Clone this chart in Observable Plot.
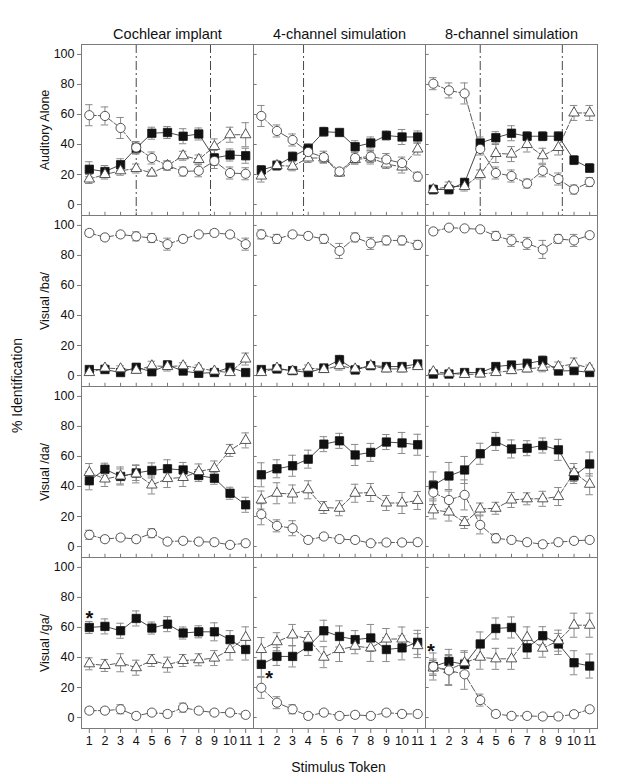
<!DOCTYPE html>
<html><head><meta charset="utf-8">
<script src="https://cdn.jsdelivr.net/npm/d3@7"></script>
<script src="https://cdn.jsdelivr.net/npm/@observablehq/plot@0.6"></script>
<style>body{margin:0;background:#fff}</style>
</head><body><div id="chart"></div>
<script>
// ---- categories / ticks ----
const tokens = [1,2,3,4,5,6,7,8,9,10,11];
const yTicks = [0,20,40,60,80,100];
const columns = ["Cochlear implant", "4-channel simulation", "8-channel simulation"];
const rows = ["Auditory Alone", "Visual /ba/", "Visual /da/", "Visual /ga/"];

// ---- Auditory Alone ----
const aaCI_ba = [59.5,59,51,38,31,26,22,22.5,29,21,20.5], aaCI_baErr = [7,6,7,4,4,3,3,4,5,4,4];
const aaCI_da = [23.5,22,26.5,37.6,47.5,48,45.5,47,31,33,32.5], aaCI_daErr = [5,4,4,4,4,4,5,4,5,4,5];
const aaCI_ga = [17,20,22.5,24,21,26,32.5,30,38.7,46.5,46.5], aaCI_gaErr = [3,3,3,3,2,3,3,3,5,5,8];
const aa4_ba = [59,49,43,35,31.5,22,31,32,30,27.6,18.6], aa4_baErr = [7,4,4,4,4,2,4,4,4,4,3];
const aa4_da = [23,26,32,37.4,48.5,48,38.5,41,46,45,45], aa4_daErr = [3,3,3,3,3,2,4,4,3,5,4];
const aa4_ga = [19,26,25.5,31,31,21,30,31,27,25,37], aa4_gaErr = [4,3,3,3,3,2,3,4,3,4,4];
const aa8_ba = [80.5,76,74,37,21,19,14,22.5,17,10,15], aa8_baErr = [4,5,7,4,4,4,3,4,4,3,3];
const aa8_da = [10,10,14.6,41,44.5,47.5,45.5,45.5,45.5,29.6,24.3], aa8_daErr = [3,3,3,4,4,5,3,3,3,3,3];
const aa8_ga = [10,12,12,20,34,33.6,40,32.5,38,61,61], aa8_gaErr = [2,3,3,3,6,5,5,5,5,5,5];

// ---- Visual /ba/ ----
const vbCI_ba = [95,92,94,92.7,91.6,87.5,91,94,95,94,87.5], vbCI_baErr = [2,2,2,3,3,4,2,2,2,2,4];
const vbCI_da = [4,4,2,5.5,2.5,7,3,1.5,2,5.5,2], vbCI_daErr = [1,1,1,2,1,3,1,1,1,2,1];
const vbCI_ga = [2,5,4.5,3.5,6.5,6,6.5,5,3,2,11], vbCI_gaErr = [1,2,2,2,3,3,2,2,1,1,4];
const vb4_ba = [94,91,94,93,91,83,92,88,90,90,87], vb4_baErr = [3,3,2,2,3,5,3,4,3,3,3];
const vb4_da = [4,4.4,3.3,2,5,10.5,3.7,6.6,6,6,7.7], vb4_daErr = [1,1,1,1,2,3,1,2,2,2,2];
const vb4_ga = [2,5,3,5,4,6.6,4.4,6.6,4.4,4.4,6], vb4_gaErr = [1,2,1,2,2,3,2,2,2,2,2];
const vb8_ba = [96,98.5,98,97.4,93,90,88,84,91,90,93.5], vb8_baErr = [2,1,1,1,3,4,4,6,3,4,2];
const vb8_da = [1,1,2,2,6,7,8,10,3,3.3,2], vb8_daErr = [1,1,1,1,2,2,3,3,1,1,1];
const vb8_ga = [2.6,1.5,0.7,1,2,3.3,4.4,5.5,6,7.7,5], vb8_gaErr = [1,1,1,1,1,2,2,3,3,4,2];

// ---- Visual /da/ ----
const vdCI_ba = [7.8,4.9,6,4.9,8.9,3.3,3.8,3.3,2.9,1.1,2.2], vdCI_baErr = [3,2,2,2,3,2,2,2,2,2,2];
const vdCI_da = [43.8,51.5,46.7,49,50.7,51.8,51,47.3,45.5,35.5,27.8], vdCI_daErr = [6,4,5,5,5,6,5,4,4,4,5];
const vdCI_ga = [49.3,45,47,48.4,41,45.3,46,50,52,64,70.7], vdCI_gaErr = [6,5,6,6,6,6,6,5,5,4,5];
const vd4_ba = [21.5,13.8,12.2,4.4,6.7,5,4.4,2.2,2.7,2.7,2.9], vd4_baErr = [7,4,5,2,2,2,2,2,2,2,2];
const vd4_da = [47.8,51.8,53.8,58.2,68.2,70.4,61,62.7,69.6,69,67.8], vd4_daErr = [8,6,7,6,5,5,7,6,5,7,7];
const vd4_ga = [31,35.5,35,37.8,26,25.5,35.5,36,29,29,30.7], vd4_gaErr = [6,7,6,6,4,5,6,6,5,7,6];
const vd8_ba = [36,31,34.4,14.4,5.5,4.4,2.9,1.5,2.9,3.8,4.4], vd8_baErr = [8,6,10,6,3,2,2,2,2,2,2];
const vd8_da = [40.7,47,51,61.8,70,65,65.5,67.3,64.4,47,55], vd8_daErr = [9,9,9,7,6,6,5,5,7,5,8];
const vd8_ga = [24.4,23,16,25,25.5,31,31.8,31.8,33.3,49.3,41.5], vd8_gaErr = [6,6,4,4,4,5,4,5,6,6,7];

// ---- Visual /ga/ ----
const vgCI_ba = [4.6,4.6,5.5,1.1,3.3,2.4,6.6,4.6,3.3,3.3,1.8], vgCI_baErr = [2,2,3,2,2,2,3,2,2,2,2];
const vgCI_da = [60,60.7,57.8,66,59.6,62.2,56.3,57.1,57.1,51.9,45.3], vgCI_daErr = [4,5,5,5,4,5,4,4,6,6,7];
const vgCI_ga = [35.8,34.7,36.5,33.2,38,35.2,38,38.5,39.6,45.3,53.4], vgCI_gaErr = [4,4,6,5,4,5,4,4,5,7,7];
const vg4_ba = [19.8,9.9,5.5,1.1,3.3,1.1,1.8,1.1,3.3,2.4,2.4], vg4_baErr = [7,4,3,2,2,2,2,2,2,2,2];
const vg4_da = [35.4,40.7,40.7,47.3,57.8,54,51.9,53,45.3,46.4,50.1], vg4_daErr = [8,6,7,6,7,7,6,9,8,8,8];
const vg4_ga = [45.3,50.5,55,52.3,40.2,45.3,47.5,46.4,52.3,52.3,47.9], vg4_gaErr = [8,6,7,5,7,8,5,9,7,8,8];
const vg8_ba = [34,31.4,28.8,11.6,2.4,1.1,1.1,0.7,0.7,2.2,5.5], vg8_baErr = [5,10,10,4,2,2,2,2,2,2,2];
const vg8_da = [34,37.4,35.4,49,59.3,60,46.4,54.5,49,36.5,34.3], vg8_daErr = [9,8,8,8,7,7,7,6,7,8,8];
const vg8_ga = [33,31.9,36.5,40.2,39.1,39.1,53.4,46.2,51.2,61.5,61.5], vg8_gaErr = [5,10,8,8,7,7,7,6,7,8,8];

// category boundary lines (top row) and asterisks
const boundaryCol = [columns[0], columns[0], columns[1], columns[2], columns[2]];
const boundaryX = [4, 8.75, 3.7, 4, 9.25];
const starCol = [columns[0], columns[1], columns[2]];
const starX = [1, 1.5, 0.85];
const starY = [69, 29, 47];

// ---- build table ----
const table = [];
function addPanel(row, col, sets) {
  for (const [series, vals, errs] of sets)
    tokens.forEach((t, i) => table.push({row, col, series, token: t, value: vals[i], err: errs[i]}));
}
addPanel(rows[0], columns[0], [["da", aaCI_da, aaCI_daErr], ["ga", aaCI_ga, aaCI_gaErr], ["ba", aaCI_ba, aaCI_baErr]]);
addPanel(rows[0], columns[1], [["da", aa4_da, aa4_daErr], ["ga", aa4_ga, aa4_gaErr], ["ba", aa4_ba, aa4_baErr]]);
addPanel(rows[0], columns[2], [["da", aa8_da, aa8_daErr], ["ga", aa8_ga, aa8_gaErr], ["ba", aa8_ba, aa8_baErr]]);
addPanel(rows[1], columns[0], [["da", vbCI_da, vbCI_daErr], ["ga", vbCI_ga, vbCI_gaErr], ["ba", vbCI_ba, vbCI_baErr]]);
addPanel(rows[1], columns[1], [["da", vb4_da, vb4_daErr], ["ga", vb4_ga, vb4_gaErr], ["ba", vb4_ba, vb4_baErr]]);
addPanel(rows[1], columns[2], [["da", vb8_da, vb8_daErr], ["ga", vb8_ga, vb8_gaErr], ["ba", vb8_ba, vb8_baErr]]);
addPanel(rows[2], columns[0], [["da", vdCI_da, vdCI_daErr], ["ga", vdCI_ga, vdCI_gaErr], ["ba", vdCI_ba, vdCI_baErr]]);
addPanel(rows[2], columns[1], [["da", vd4_da, vd4_daErr], ["ga", vd4_ga, vd4_gaErr], ["ba", vd4_ba, vd4_baErr]]);
addPanel(rows[2], columns[2], [["da", vd8_da, vd8_daErr], ["ga", vd8_ga, vd8_gaErr], ["ba", vd8_ba, vd8_baErr]]);
addPanel(rows[3], columns[0], [["da", vgCI_da, vgCI_daErr], ["ga", vgCI_ga, vgCI_gaErr], ["ba", vgCI_ba, vgCI_baErr]]);
addPanel(rows[3], columns[1], [["da", vg4_da, vg4_daErr], ["ga", vg4_ga, vg4_gaErr], ["ba", vg4_ba, vg4_baErr]]);
addPanel(rows[3], columns[2], [["da", vg8_da, vg8_daErr], ["ga", vg8_ga, vg8_gaErr], ["ba", vg8_ba, vg8_baErr]]);

const boundaries = boundaryX.map((x, i) => ({row: rows[0], col: boundaryCol[i], x}));
const stars = starX.map((x, i) => ({row: rows[3], col: starCol[i], x, y: starY[i]}));
const rowLabels = rows.map(r => ({row: r, col: columns[0], label: r}));
const innerY = [];
for (const r of rows) for (const c of columns.slice(1)) for (const v of yTicks) innerY.push({row: r, col: c, v});
const innerX = [];
for (const r of rows.slice(0, 3)) for (const c of columns) for (const t of tokens) innerX.push({row: r, col: c, t});

const W = 644, H = 783, mL = 80, mR = 47, mT = 42, mB = 54;
const facetW = (W - mL - mR) / 3, facetH = (H - mT - mB) / 4;
const bySeries = s => table.filter(d => d.series === s);
const lineColor = "#333", errColor = "#8a8a8a";

const chart = Plot.plot({
  width: W, height: H,
  marginLeft: mL, marginRight: mR, marginTop: mT, marginBottom: mB,
  style: {fontFamily: "'Liberation Sans', Arial, sans-serif", fontSize: "12.5px", color: "#111", background: "#fff"},
  x: {domain: [0.5, 11.5], label: null},
  y: {domain: [-7.3, 106.6], label: null},
  fx: {domain: columns, padding: 0, label: null},
  fy: {domain: rows, padding: 0, label: null, axis: null},
  marks: [
    Plot.axisFx({anchor: "top", label: null, tickSize: 0, tickPadding: 6, fontSize: 14.5}),
    Plot.axisY({ticks: yTicks, tickSize: 4, tickPadding: 3, label: null, stroke: "#777"}),
    Plot.axisX({ticks: tokens, tickFormat: d => String(d), tickSize: 5, tickPadding: 3, label: null, stroke: "#777"}),
    Plot.tickY(innerY, {y: "v", fx: "col", fy: "row", insetRight: facetW - 4, stroke: "#777"}),
    Plot.tickX(innerX, {x: "t", fx: "col", fy: "row", insetTop: facetH - 4, stroke: "#777"}),
    Plot.ruleX(boundaries, {x: "x", fx: "col", fy: "row", stroke: "#333", strokeWidth: 0.9, strokeDasharray: "9,3,2,3"}),
    Plot.line(bySeries("da"), {x: "token", y: "value", fx: "col", fy: "row", stroke: lineColor, strokeWidth: 0.9}),
    Plot.line(bySeries("ga"), {x: "token", y: "value", fx: "col", fy: "row", stroke: lineColor, strokeWidth: 0.8, strokeDasharray: "5,2"}),
    Plot.line(bySeries("ba"), {x: "token", y: "value", fx: "col", fy: "row", stroke: lineColor, strokeWidth: 0.8, strokeDasharray: "7,2"}),
    Plot.ruleX(table, {x: "token", y1: d => d.value - d.err, y2: d => d.value + d.err, fx: "col", fy: "row", stroke: errColor, strokeWidth: 1}),
    Plot.ruleY(table, {y: d => d.value + d.err, x1: d => d.token - 0.24, x2: d => d.token + 0.24, fx: "col", fy: "row", stroke: errColor, strokeWidth: 1}),
    Plot.ruleY(table, {y: d => d.value - d.err, x1: d => d.token - 0.24, x2: d => d.token + 0.24, fx: "col", fy: "row", stroke: errColor, strokeWidth: 1}),
    Plot.dot(bySeries("da"), {x: "token", y: "value", fx: "col", fy: "row", symbol: "square", r: 4.7, fill: "#111", stroke: "#111", strokeWidth: 0.8}),
    Plot.dot(bySeries("ga"), {x: "token", y: "value", fx: "col", fy: "row", symbol: "triangle", r: 3.9, fill: "#fff", stroke: "#444", strokeWidth: 0.9}),
    Plot.dot(bySeries("ba"), {x: "token", y: "value", fx: "col", fy: "row", symbol: "circle", r: 4.6, fill: "#fff", stroke: "#444", strokeWidth: 0.9}),
    Plot.text(stars, {x: "x", y: "y", fx: "col", fy: "row", text: () => "*", fontSize: 20, fontWeight: "bold", dy: 5, fill: "#111"}),
    Plot.text(rowLabels, {fx: "col", fy: "row", text: "label", frameAnchor: "left", textAnchor: "middle", rotate: -90, dx: -37, fontSize: 12.5, fill: "#111"}),
    Plot.frame({stroke: "#7a7a7a"})
  ]
});

const svg = d3.select(chart);
svg.append("text").attr("transform", `translate(18,${mT + (H - mT - mB) / 2}) rotate(-90)`)
  .attr("text-anchor", "middle").attr("dominant-baseline", "middle")
  .attr("font-size", 14).attr("fill", "#111").text("% Identification");
svg.append("text").attr("x", mL + (W - mL - mR) / 2).attr("y", 772)
  .attr("text-anchor", "middle").attr("font-size", 14).attr("fill", "#111").text("Stimulus Token");
document.getElementById("chart").appendChild(chart);
</script></body></html>
